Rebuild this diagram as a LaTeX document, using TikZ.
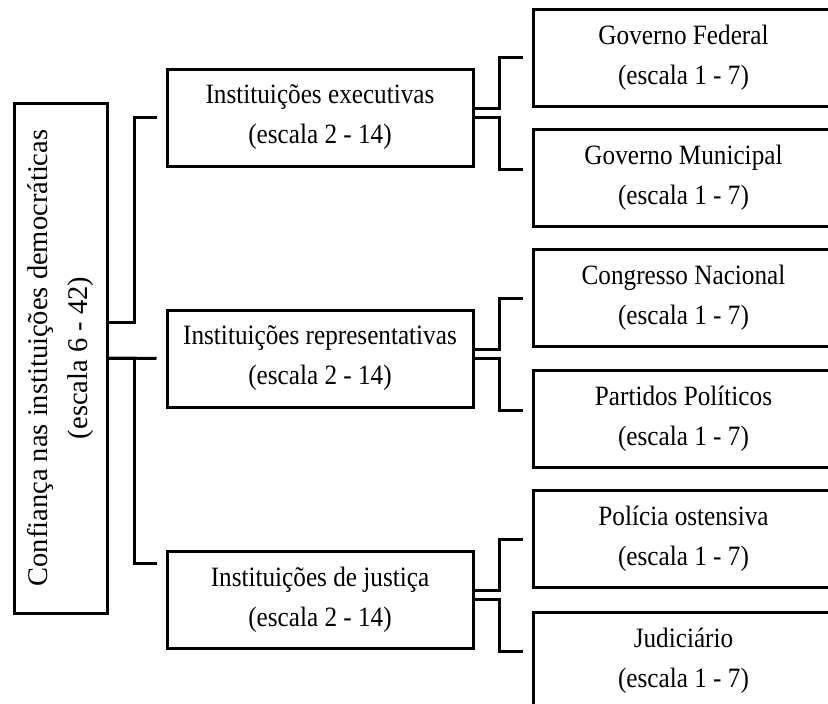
\documentclass[tikz,border=0pt]{standalone}
\usepackage{fontspec}
\setmainfont{Liberation Serif}
\newfontfamily\hfont{Liberation Serif}[FakeStretch=0.9]
\begin{document}
\begin{tikzpicture}[x=1pt,y=-1pt,
  frame/.style={draw,line width=3pt,inner sep=0pt},
  box/.style={frame,minimum width=306pt,minimum height=97pt,align=center,
    font=\hfont\fontsize{28}{40}\selectfont},
  rbox/.style={box,minimum width=301pt},
  conn/.style={line width=3pt,shorten >=9pt}]
\useasboundingbox (0,0) rectangle (828,704);
\clip (0,0) rectangle (828,704);
% left box
\node[frame,minimum width=93pt,minimum height=510pt] (L) at (60.5,358) {};
\node[rotate=90,align=center,inner sep=0pt,font=\fontsize{28.5}{40}\selectfont] (Lt) at (L.center)
  {Confiança nas instituições democráticas\\(escala 6 - 42)};
% middle boxes
\node[box] (M1) at (320,117.5) {Instituições executivas\\(escala 2 - 14)};
\node[box] (M2) at (320,358.5) {Instituições representativas\\(escala 2 - 14)};
\node[box] (M3) at (320,599.5) {Instituições de justiça\\(escala 2 - 14)};
% right boxes
\node[rbox] (R1) at (683.5,57.5) {Governo Federal\\(escala 1 - 7)};
\node[rbox] (R2) at (683.5,178) {Governo Municipal\\(escala 1 - 7)};
\node[rbox] (R3) at (683.5,298) {Congresso Nacional\\(escala 1 - 7)};
\node[rbox] (R4) at (683.5,419) {Partidos Políticos\\(escala 1 - 7)};
\node[rbox] (R5) at (683.5,539) {Polícia ostensiva\\(escala 1 - 7)};
\node[rbox] (R6) at (683.5,660.5) {Judiciário\\(escala 1 - 7)};
% connectors from left
\draw[conn] ([yshift=36pt]L.east) -- ++(26,0) |- (M1.west);
\draw[conn] (L.east) -- (M2.west);
\draw[conn] (L.east) -- ++(26,0) |- ([yshift=36.5pt]M3.west);
% connectors from middle
\draw[conn] ([yshift=9pt]M1.east) -- ++(25,0) |- (R1.west);
\draw[conn] (M1.east) -- ++(25,0) |- ([yshift=9pt]R2.west);
\draw[conn] ([yshift=9pt]M2.east) -- ++(25,0) |- (R3.west);
\draw[conn] (M2.east) -- ++(25,0) |- ([yshift=9pt]R4.west);
\draw[conn] ([yshift=9pt]M3.east) -- ++(25,0) |- (R5.west);
\draw[conn] (M3.east) -- ++(25,0) |- ([yshift=9pt]R6.west);
\end{tikzpicture}
\end{document}
